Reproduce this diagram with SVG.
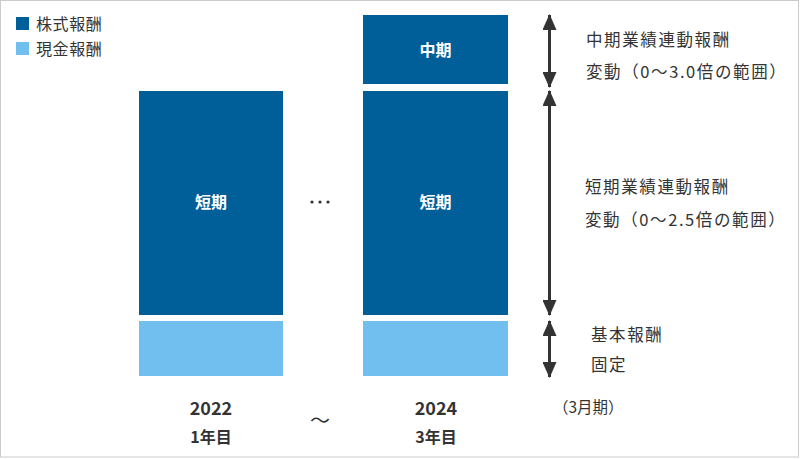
<svg xmlns="http://www.w3.org/2000/svg" width="800" height="459" viewBox="0 0 800 459">
<style>
.t{font-family:"Noto Sans CJK JP","Noto Sans",sans-serif;fill:#333;}
.lbl{font-size:16.5px;letter-spacing:1.6px;}
.leg{font-size:16px;letter-spacing:0.6px;}
.bar-l{font-family:"Noto Sans CJK JP","Noto Sans",sans-serif;fill:#fff;font-size:16px;font-weight:bold;text-anchor:middle;}
.yr{font-size:18px;font-weight:bold;text-anchor:middle;}
.dark{fill:#005e98;}
.light{fill:#71bfef;}
.arr{stroke:#333;stroke-width:3;fill:none;}
</style>
<defs>
<marker id="ah" markerUnits="userSpaceOnUse" markerWidth="16" markerHeight="14" viewBox="0 0 16 14" refX="15" refY="7" orient="auto-start-reverse">
<path d="M0,0 L16,7 L0,14 Z" fill="#333"/>
</marker>
</defs>
<rect x="0.5" y="0.5" width="798" height="456.5" fill="#fff" stroke="#ccc" stroke-width="1"/>
<g id="legend">
<rect class="dark" x="16" y="17" width="13" height="13"/>
<text class="t leg" x="36" y="30">株式報酬</text>
<rect class="light" x="16" y="42" width="13" height="13"/>
<text class="t leg" x="36" y="55">現金報酬</text>
</g>
<g id="bar2022-short">
<rect class="dark" x="139" y="91" width="144" height="224"/>
<text class="bar-l" x="211" y="208">短期</text>
</g>
<g id="bar2022-base">
<rect class="light" x="139" y="321" width="144" height="55"/>
</g>
<g id="bar2024-mid">
<rect class="dark" x="363" y="15" width="145" height="69"/>
<text class="bar-l" x="435.5" y="56">中期</text>
</g>
<g id="bar2024-short">
<rect class="dark" x="363" y="91" width="145" height="224"/>
<text class="bar-l" x="435.5" y="208">短期</text>
</g>
<g id="bar2024-base">
<rect class="light" x="363" y="321" width="145" height="55"/>
</g>
<g id="ellipsis">
<circle cx="312" cy="202" r="1.6" fill="#333"/>
<circle cx="320" cy="202" r="1.6" fill="#333"/>
<circle cx="328" cy="202" r="1.6" fill="#333"/>
</g>
<g id="connectors">
<line class="arr" x1="549.5" y1="15" x2="549.5" y2="87" marker-start="url(#ah)" marker-end="url(#ah)"/>
<line class="arr" x1="549.5" y1="91" x2="549.5" y2="315" marker-start="url(#ah)" marker-end="url(#ah)"/>
<line class="arr" x1="549.5" y1="321" x2="549.5" y2="377" marker-start="url(#ah)" marker-end="url(#ah)"/>
</g>
<g id="label-mid">
<text class="t lbl" x="586" y="46">中期業績連動報酬</text>
<text class="t lbl" x="586" y="78">変動（0～3.0倍の範囲）</text>
</g>
<g id="label-short">
<text class="t lbl" x="585" y="193">短期業績連動報酬</text>
<text class="t lbl" x="585" y="226">変動（0～2.5倍の範囲）</text>
</g>
<g id="label-base">
<text class="t lbl" x="591" y="341">基本報酬</text>
<text class="t lbl" x="591" y="371">固定</text>
</g>
<g id="years">
<text class="t yr" x="211" y="415">2022</text>
<text class="t yr" x="211" y="443" style="font-size:16px">1年目</text>
<text class="t yr" x="436" y="415">2024</text>
<text class="t yr" x="436" y="443" style="font-size:16px">3年目</text>
<text class="t" x="320" y="428" style="font-size:20px;text-anchor:middle">～</text>
<text class="t" x="553" y="413" style="font-size:15.5px">（3月期）</text>
</g>
</svg>
